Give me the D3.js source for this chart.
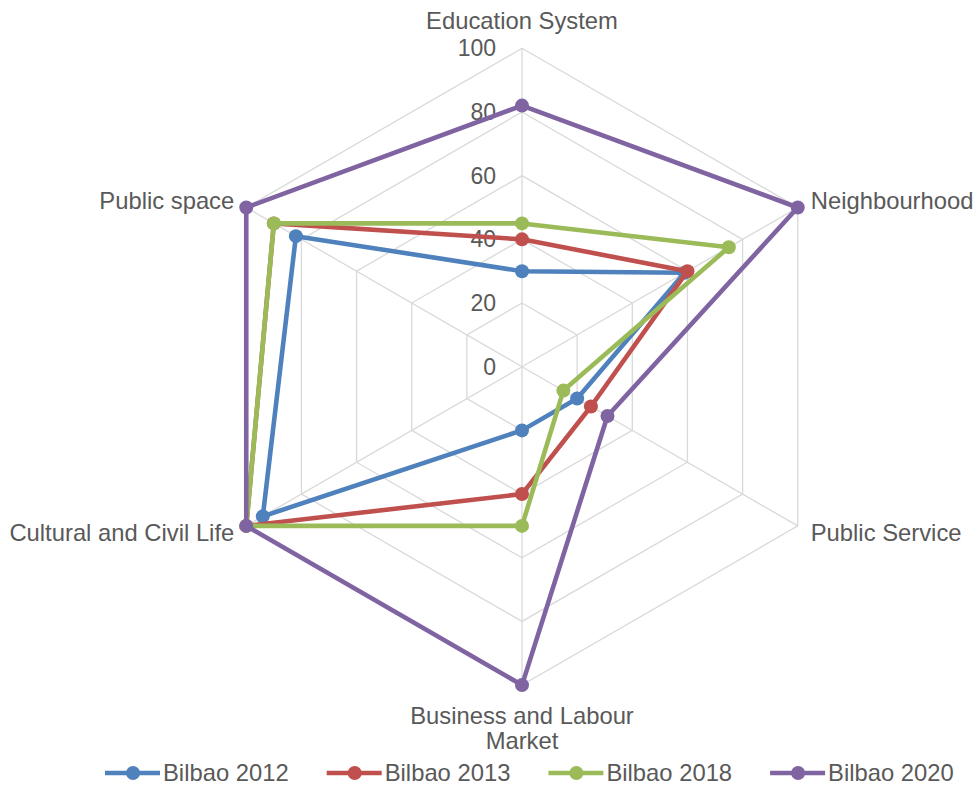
<!DOCTYPE html>
<html>
<head>
<meta charset="utf-8">
<script src="https://cdn.jsdelivr.net/npm/d3@7"></script>
<style>
  html, body { margin: 0; padding: 0; background: #fff; }
  text { font-family: "Liberation Sans", Arial, sans-serif; fill: #595959; }
</style>
</head>
<body>
<div id="chart"></div>
<script>
// axes of the radar, clockwise from the top
const categories = ["Education System", "Neighbourhood", "Public Service",
  "Business and Labour Market", "Cultural and Civil Life", "Public space"];
const seriesNames = ["Bilbao 2012", "Bilbao 2013", "Bilbao 2018", "Bilbao 2020"];
const bilbao2012 = [30, 59, 20, 20, 94, 82];
const bilbao2013 = [40, 60, 25, 40, 100, 90];
const bilbao2018 = [45, 75, 15, 50, 100, 90];
const bilbao2020 = [82, 100, 31, 100, 100, 100];
const tickValues = [0, 20, 40, 60, 80, 100];
const colors = ["#4f81bd", "#c0504d", "#9bbb59", "#8064a2"];

const width = 979, height = 787;
const cx = 522, cy = 366.7, R = 318.4;
const fontSize = 23.8;

const series = seriesNames.map((name, i) => ({
  name,
  values: [bilbao2012, bilbao2013, bilbao2018, bilbao2020][i]
}));

const r = d3.scaleLinear().domain([0, 100]).range([0, R]);
const angle = d3.scalePoint().domain(d3.range(categories.length))
  .range([0, 2 * Math.PI * (categories.length - 1) / categories.length]);

const svg = d3.select("#chart").append("svg")
  .attr("width", width).attr("height", height);

const g = svg.append("g").attr("transform", `translate(${cx},${cy})`);

// grid rings
const ring = d3.lineRadial().curve(d3.curveLinearClosed)
  .angle((d, i) => angle(i)).radius(d => r(d));
g.append("g").selectAll("path")
  .data(tickValues.filter(t => t > 0))
  .join("path")
  .attr("d", t => ring(categories.map(() => t)))
  .attr("fill", "none").attr("stroke", "#d9d9d9").attr("stroke-width", 1.3);

// spokes
g.append("g").selectAll("line")
  .data(categories)
  .join("line")
  .attr("x2", (d, i) => r(100) * Math.sin(angle(i)))
  .attr("y2", (d, i) => -r(100) * Math.cos(angle(i)))
  .attr("stroke", "#d9d9d9").attr("stroke-width", 1.3);

// tick labels
g.append("g").selectAll("text")
  .data(tickValues)
  .join("text")
  .attr("x", -26)
  .attr("y", t => -r(t))
  .attr("dy", "0.35em")
  .attr("text-anchor", "end")
  .attr("font-size", 23)
  .text(t => t);

// category labels
const lab = g.append("g").attr("font-size", fontSize);
categories.forEach((c, i) => {
  const a = angle(i);
  const x = r(100) * Math.sin(a), y = -r(100) * Math.cos(a);
  const t = lab.append("text");
  if (i === 0) {
    t.attr("x", x).attr("y", y - 28).attr("dy", "0.35em").attr("text-anchor", "middle").text(c);
  } else if (i === 3) {
    t.attr("text-anchor", "middle");
    t.append("tspan").attr("x", x).attr("y", y + 31).attr("dy", "0.35em").text("Business and Labour");
    t.append("tspan").attr("x", x).attr("y", y + 56).attr("dy", "0.35em").text("Market");
  } else {
    const right = x > 0;
    t.attr("x", x + (right ? 13 : -12))
      .attr("y", y + (y < 0 ? -7 : 7))
      .attr("dy", "0.35em")
      .attr("text-anchor", right ? "start" : "end")
      .text(c);
  }
});

// series
const line = d3.lineRadial().curve(d3.curveLinearClosed)
  .angle((d, i) => angle(i)).radius(d => r(d));

const sg = g.append("g").selectAll("g")
  .data(series)
  .join("g");

sg.append("path")
  .attr("d", d => line(d.values))
  .attr("fill", "none")
  .attr("stroke", (d, i) => colors[i])
  .attr("stroke-width", 4.6)
  .attr("stroke-linejoin", "round");

sg.each(function (d, si) {
  d3.select(this).selectAll("circle")
    .data(d.values)
    .join("circle")
    .attr("cx", (v, i) => r(v) * Math.sin(angle(i)))
    .attr("cy", (v, i) => -r(v) * Math.cos(angle(i)))
    .attr("r", 7)
    .attr("fill", colors[si]);
});

// legend
const legend = svg.append("g").attr("transform", "translate(105,773)");
const item = legend.selectAll("g")
  .data(series)
  .join("g")
  .attr("transform", (d, i) => `translate(${i * 221.7},0)`);
item.append("line")
  .attr("x1", 0).attr("x2", 55)
  .attr("stroke", (d, i) => colors[i]).attr("stroke-width", 4.6);
item.append("circle")
  .attr("cx", 28).attr("r", 7)
  .attr("fill", (d, i) => colors[i]);
item.append("text")
  .attr("x", 58).attr("dy", "0.35em")
  .attr("font-size", fontSize)
  .text(d => d.name);
</script>
</body>
</html>
